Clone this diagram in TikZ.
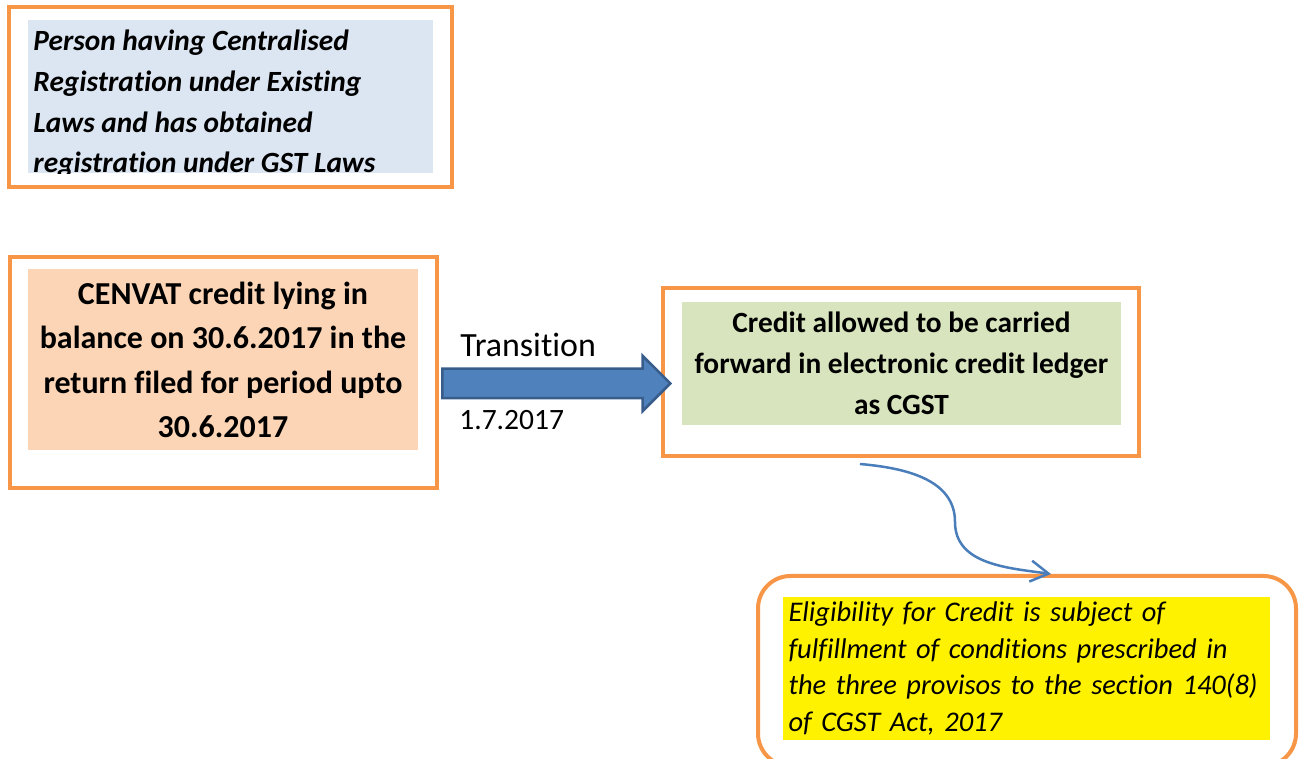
\documentclass[tikz,border=0pt]{standalone}
\usepackage{fontspec}
\setmainfont{Carlito}[Ligatures=NoCommon]
\usetikzlibrary{arrows.meta,calc,positioning,shapes.arrows}
\definecolor{frameorange}{HTML}{F79646}
\definecolor{personblue}{HTML}{DCE6F2}
\definecolor{cenvatpeach}{HTML}{FBD5B5}
\definecolor{creditgreen}{HTML}{D7E4BD}
\definecolor{shiftblue}{HTML}{4F81BD}
\definecolor{shiftedge}{HTML}{385D8A}
\definecolor{linkblue}{HTML}{4A7EBB}
\tikzset{
    flow chart/.style   = {>={Straight Barb[length=3.6mm,width=4.2mm]}},
    orange frame/.style = {draw=frameorange, line width=0.08cm, fill=white},
    panel/.style        = {inner sep=0pt, align=center},
    person text/.style  = {inner sep=0pt, align=left,
                           font=\fontsize{16.7}{23.2}\selectfont\bfseries\itshape},
    cenvat text/.style  = {font=\fontsize{18.2}{25.2}\selectfont\bfseries},
    credit text/.style  = {font=\fontsize{16.7}{23.3}\selectfont\bfseries},
    rule text/.style    = {font=\fontsize{16.2}{20.8}\selectfont\itshape,
                           align=left, inner sep=0pt, text width=9.5cm},
    shift arrow/.style  = {single arrow, inner xsep=0pt, inner ysep=0.27cm,
                           fill=shiftblue, draw=shiftedge, line width=0.05cm,
                           single arrow head extend=0.26cm},
    link/.style         = {->, draw=linkblue, line width=0.05cm},
    tag/.style          = {inner sep=0pt, anchor=base west}
}
\def\shiftlength{4.56cm}

\begin{document}
\begin{tikzpicture}[flow chart]
\useasboundingbox (0,0) rectangle (26.02,15.16);

% Registration box at the top left, its text cut at the shaded panel.
\node[orange frame, minimum width=8.86cm, minimum height=3.6cm]
    (person frame) at (4.61,13.22) {};
\node[panel, fill=personblue, minimum width=8.1cm, minimum height=3.06cm]
    (person panel) at (4.61,13.23) {};
\begin{scope}
    \clip (person panel.south west) rectangle (person panel.north east);
    \node[person text, anchor=north west]
        (person) at ([shift={(0.11,-0.2)}]person panel.north west)
        {Person having Centralised\\ Registration under Existing\\
         Laws and has obtained\\ registration under GST Laws};
\end{scope}

% Closing balance of CENVAT credit.
\node[orange frame, minimum width=8.54cm, minimum height=4.62cm]
    (cenvat frame) at (4.47,7.71) {};
\node[panel, cenvat text, fill=cenvatpeach,
      minimum width=7.8cm, minimum height=3.62cm]
    (cenvat) at (4.46,7.96)
    {CENVAT credit lying in\\ balance on 30.6.2017 in the\\
     return filed for period upto\\ 30.6.2017};

% Credit ledger under GST.
\node[orange frame, minimum width=9.52cm, minimum height=3.36cm]
    (credit frame) at (18.02,7.72) {};
\node[panel, credit text, fill=creditgreen,
      minimum width=8.78cm, minimum height=2.46cm]
    (credit) at (18.03,7.89)
    {Credit allowed to be carried\\ forward in electronic credit ledger\\
     as CGST};

% Conditions, in the rounded box cut by the lower edge.
\node[orange frame, rounded corners=0.65cm,
      minimum width=10.76cm, minimum height=3.8cm]
    (rule frame) at (20.54,1.74) {};
\node[panel, rule text, fill=yellow,
      minimum width=9.64cm, minimum height=2.86cm,
      inner xsep=0.12cm]
    (rule) at (20.52,1.79)
    {Eligibility for Credit is subject of\\
     fulfillment of conditions prescribed in\\
     the three provisos to the section 140(8)\\
     of CGST Act, 2017};

% Transition from the old balance to the new ledger.
\node[shift arrow, minimum height=\shiftlength, anchor=tail]
    (shift) at ([shift={(0.04,-0.22)}]cenvat frame.east) {};
\node[tag, font=\fontsize{19.3}{23}\selectfont]
    (transition) at ([shift={(0.38,0.53)}]shift.tail) {Transition};
\node[tag, font=\fontsize{16.8}{20}\selectfont]
    (date) at ([shift={(0.36,-0.93)}]shift.tail) {1.7.2017};

% Link from the ledger down to the conditions.
\draw[link] ([shift={(-0.82,-0.12)}]credit frame.south)
    to[out=-5, in=90] ++(1.9,-1.16)
    to[out=-90, in=172] ([xshift=0.48cm]rule frame.north);

\end{tikzpicture}
\end{document}
